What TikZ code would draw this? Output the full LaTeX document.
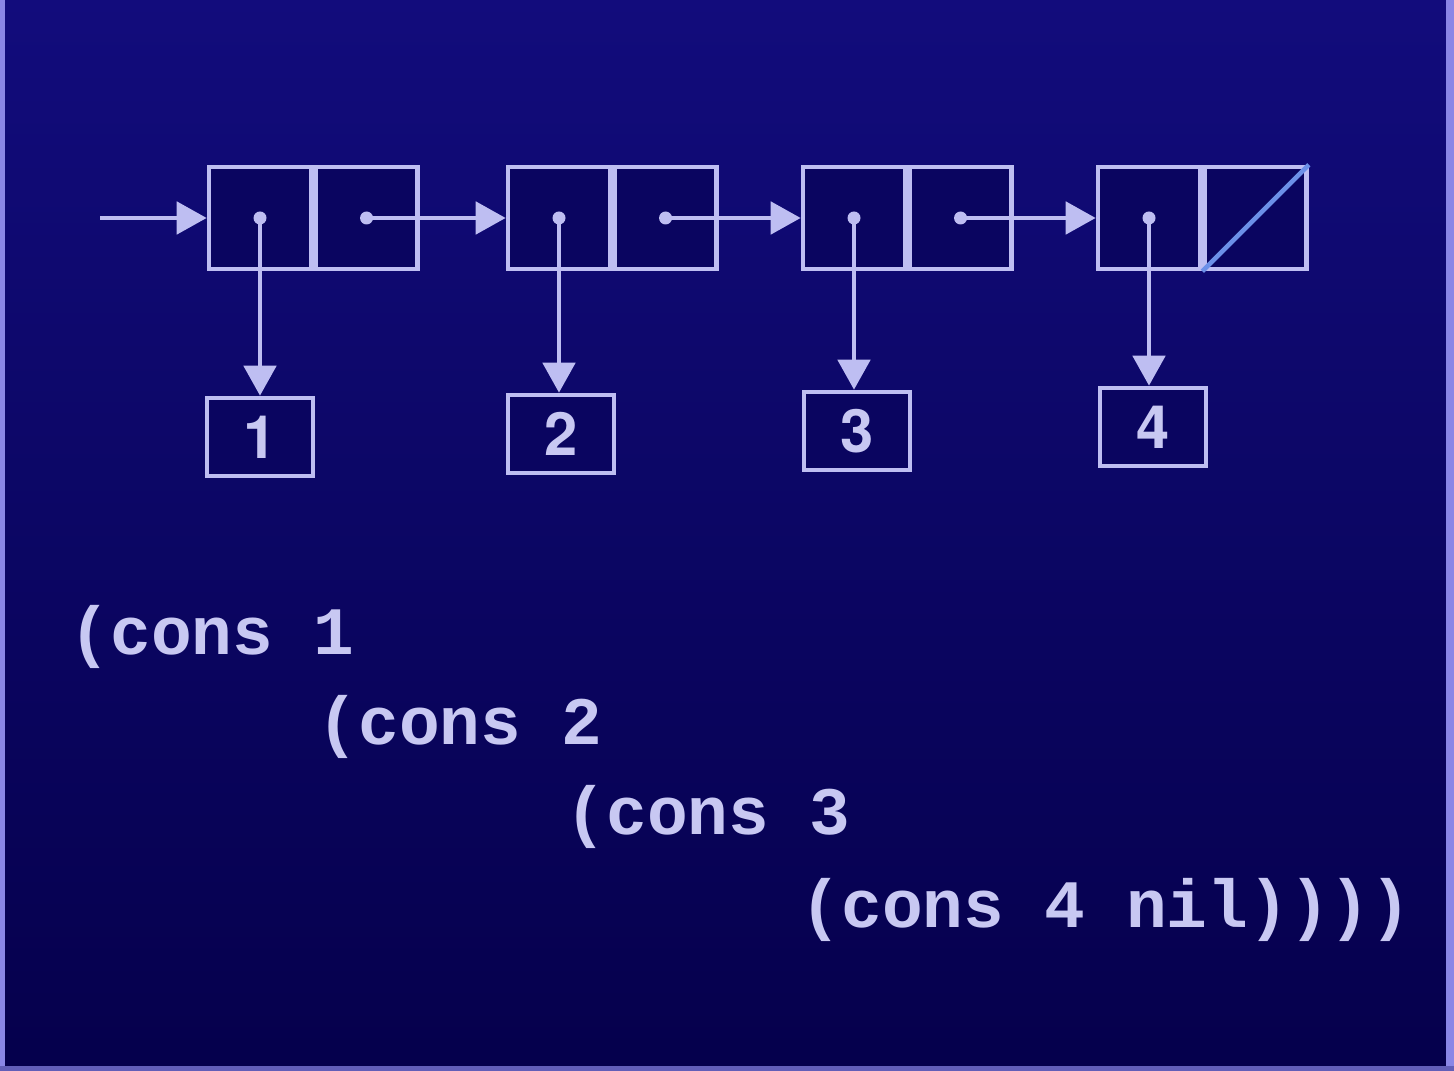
\documentclass[tikz,border=0pt]{standalone}
\usepackage{fontspec}
\newfontfamily\numfont{TeX Gyre Heros}
\newfontfamily\codefont{Liberation Mono}
\usetikzlibrary{arrows.meta, positioning}
\definecolor{bgtop}{HTML}{120C7C}
\definecolor{bgmid}{HTML}{08026C}
\definecolor{bgbot}{HTML}{05004C}
\definecolor{cellfill}{HTML}{0A0560}
\definecolor{ink}{HTML}{BEBEF2}
\definecolor{textink}{HTML}{C8C8F2}
\definecolor{nilblue}{HTML}{6C90E8}
\definecolor{edge}{HTML}{8A86E6}

\begin{document}
\begin{tikzpicture}[
    arr/.style={-{Triangle[width=0.32cm, length=0.3cm]}, line width=1.4pt, ink},
    % cons cell half
    cell/.style={rectangle, draw=ink, line width=1.3pt, fill=cellfill,
                 minimum size=1.02cm, inner sep=0pt},
    % box holding a number
    numbox/.style={rectangle, draw=ink, line width=1.3pt, fill=cellfill,
                   minimum width=1.06cm, minimum height=0.78cm, inner sep=0pt,
                   text=textink, font=\numfont\bfseries\fontsize{17}{17}\selectfont},
    dot/.style={circle, fill=ink, inner sep=0pt, minimum size=0.13cm},
    code/.style={anchor=base west, inner sep=0pt, text=textink,
                 font=\codefont\bfseries\fontsize{19.3}{19.3}\selectfont}
]

% ---------- Background ----------
\shade[top color=bgtop, middle color=bgmid, bottom color=bgbot]
    (0, 0) rectangle (14.54, 10.71);
\useasboundingbox (0, 0) rectangle (14.54, 10.71);
\fill[edge] (0, 0) rectangle (0.05, 10.71);
\fill[edge] (14.46, 0) rectangle (14.54, 10.71);
\fill[edge!70!bgbot] (0, 0) rectangle (14.54, 0.05);

% ---------- Cons cells ----------
\node[cell] at (2.60, 8.53) (car1) {};
\node[cell, right=0pt of car1] (cdr1) {};
\node[cell] at (5.59, 8.53) (car2) {};
\node[cell, right=0pt of car2] (cdr2) {};
\node[cell] at (8.54, 8.53) (car3) {};
\node[cell, right=0pt of car3] (cdr3) {};
\node[cell] at (11.49, 8.53) (car4) {};
\node[cell, right=0pt of car4] (cdr4) {};

% nil in the last cdr
\draw[nilblue, line width=1.3pt] (cdr4.south west) -- (cdr4.north east);

% pointer dots
\node[dot] at (car1.center) (p1) {};
\node[dot] at (cdr1.center) (q1) {};
\node[dot] at (car2.center) (p2) {};
\node[dot] at (cdr2.center) (q2) {};
\node[dot] at (car3.center) (p3) {};
\node[dot] at (cdr3.center) (q3) {};
\node[dot] at (car4.center) (p4) {};

% ---------- Number boxes ----------
\node[numbox] at (2.60, 6.34) (num1) {1};
\node[numbox] at (5.61, 6.37) (num2) {2};
\node[numbox] at (8.57, 6.40) (num3) {3};
\node[numbox] at (11.53, 6.44) (num4) {4};

% ---------- Pointers ----------
\coordinate (head) at (1.00, 8.53);
\draw[arr] (head) -- (car1.west);
\draw[arr] (q1.center) -- (car2.west);
\draw[arr] (q2.center) -- (car3.west);
\draw[arr] (q3.center) -- (car4.west);

\draw[arr] (p1.center) -- (p1.center |- num1.north);
\draw[arr] (p2.center) -- (p2.center |- num2.north);
\draw[arr] (p3.center) -- (p3.center |- num3.north);
\draw[arr] (p4.center) -- (p4.center |- num4.north);

% ---------- Code ----------
\node[code] at (0.69, 4.16) (line1) {(cons 1};
\node[code] at (3.17, 3.26) (line2) {(cons 2};
\node[code] at (5.65, 2.36) (line3) {(cons 3};
\node[code] at (8.00, 1.43) (line4) {(cons 4 nil))))};

\end{tikzpicture}
\end{document}
